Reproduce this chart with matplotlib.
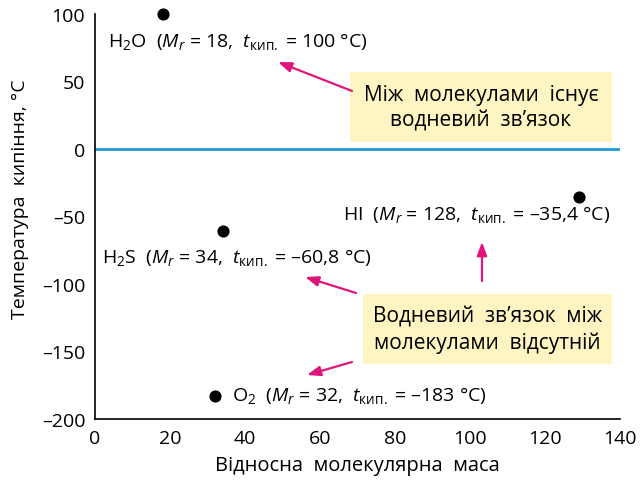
import matplotlib
matplotlib.use("Agg")
import matplotlib.pyplot as plt

plt.rcParams['font.family'] = ['Open Sans', 'DejaVu Sans']
plt.rcParams['mathtext.fontset'] = 'custom'
plt.rcParams['mathtext.rm'] = 'Open Sans'
plt.rcParams['mathtext.it'] = 'Open Sans:italic'
plt.rcParams['mathtext.bf'] = 'Open Sans:bold'

substances = ["H$_2$O", "H$_2$S", "O$_2$", "HI"]
mr = [18, 34, 32, 129]
tboil = [100, -60.8, -183, -35.4]
mr_labels = ["18", "34", "32", "128"]
t_labels = ["100", "\u201360,8", "\u2013183", "\u201335,4"]

xticks = [0, 20, 40, 60, 80, 100, 120, 140]
yticks = [100, 50, 0, -50, -100, -150, -200]

W, H = 641, 489
fig = plt.figure(figsize=(W / 100, H / 100), dpi=100)
L, R, T, B = 95, 620, 15, 420
ax = fig.add_axes([L / W, (H - B) / H, (R - L) / W, (B - T) / H])
ax.set_xlim(0, 140)
ax.set_ylim(-200, 100)

def px(x, y):
    return ((x - L) / (R - L) * 140, 100 - (y - T) / (B - T) * 300)

ax.axhline(0, color='#1E9BD7', lw=2, zorder=1)
ax.scatter(mr, tboil, s=60, color='black', zorder=5, clip_on=False)

for s in ['top', 'right']:
    ax.spines[s].set_visible(False)
for s in ['left', 'bottom']:
    ax.spines[s].set_linewidth(1.2)
ax.tick_params(length=0, labelsize=14, pad=7)
ax.set_xticks(xticks)
ax.set_yticks(yticks)
ax.set_yticklabels([str(v).replace('-', '\u2013') for v in yticks])
ax.set_xlabel("Відносна  молекулярна  маса", fontsize=14.5, labelpad=6)
ax.set_ylabel("Температура  кипіння, °C", fontsize=14, labelpad=5)
ax.yaxis.set_label_coords(-0.125, 0.546)

label_pos = [(108, 42), (102, 258), (232, 396), (343, 215)]
for name, m, t, (x, y) in zip(substances, mr_labels, t_labels, label_pos):
    txt = name + "  ($M_r$ = " + m + ",  $t_{\\mathrm{кип.}}$ = " + t + " °C)"
    ax.text(*px(x, y), txt, fontsize=14, va='center', ha='left', zorder=6)

boxes = [((350, 73, 612, 143), "Між  молекулами  існує\nводневий  зв\u2019язок"),
         ((363, 295, 612, 365), "Водневий  зв\u2019язок  між\nмолекулами  відсутній")]
for (x0, y0, x1, y1), txt in boxes:
    a = px(x0, y1)
    b = px(x1, y0)
    ax.add_patch(plt.Rectangle(a, b[0] - a[0], b[1] - a[1], facecolor='#FFF5C2',
                               edgecolor='none', zorder=3))
    ax.text((a[0] + b[0]) / 2, (a[1] + b[1]) / 2, txt, fontsize=15, ha='center',
            va='center', zorder=4, linespacing=1.3)

arrows = [((352, 92), (278, 63)), ((356, 294), (305, 278)),
          ((352, 363), (307, 376)), ((482, 282), (482, 243))]
for (sx, sy), (ex, ey) in arrows:
    ax.annotate("", xy=px(ex, ey), xytext=px(sx, sy),
                arrowprops=dict(arrowstyle='-|>,head_length=0.8,head_width=0.3',
                                color='#E0157A', lw=1.6, shrinkA=0, shrinkB=0), zorder=4)

fig.savefig("out.png", dpi=100)
